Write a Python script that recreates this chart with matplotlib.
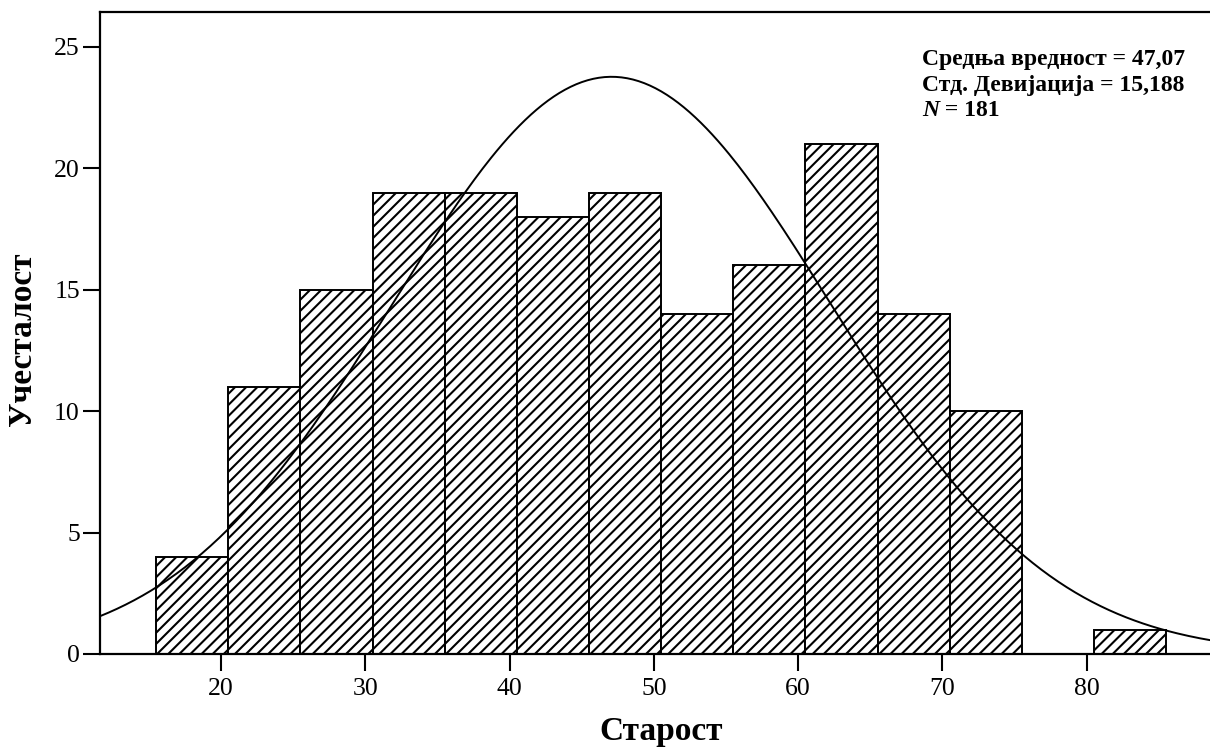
import matplotlib.pyplot as plt
import numpy as np

plt.rcParams["font.family"] = ["Liberation Serif", "DejaVu Serif"]
plt.rcParams["hatch.linewidth"] = 1.5

# histogram of age (bins of width 5)
bin_edges = [15.5, 20.5, 25.5, 30.5, 35.5, 40.5, 45.5, 50.5, 55.5, 60.5, 65.5, 70.5, 75.5, 80.5, 85.5]
counts = [4, 11, 15, 19, 19, 18, 19, 14, 16, 21, 14, 10, 0, 1]
mean_age = 47.07
std_age = 15.188
n_total = 181
x_ticks = [20, 30, 40, 50, 60, 70, 80]
y_ticks = [0, 5, 10, 15, 20, 25]

W, H = 1210, 751
fig = plt.figure(figsize=(W / 100, H / 100), dpi=100)
ax = fig.add_axes([100 / W, 97 / H, 1131 / W, 642 / H])

edges = np.array(bin_edges)
widths = np.diff(edges)
for left, w, c in zip(edges[:-1], widths, counts):
    if c == 0:
        continue
    ax.bar(left, c, width=w, align="edge", facecolor="white",
           edgecolor="black", linewidth=1.4, hatch="///", zorder=2)

xmin, xmax = 11.61, 90.0
xs = np.linspace(xmin, xmax, 400)
bw = widths[0]
pdf = n_total * bw / (std_age * np.sqrt(2 * np.pi)) * np.exp(-0.5 * ((xs - mean_age) / std_age) ** 2)
ax.plot(xs, pdf, color="black", linewidth=1.4, zorder=3)

ax.set_xlim(xmin, xmax)
ax.set_ylim(0, 26.44)
ax.set_xticks(x_ticks)
ax.set_yticks(y_ticks)
ax.tick_params(axis="both", direction="out", length=12.5, width=1.5, labelsize=18.5, pad=5)
ax.tick_params(axis="y", pad=2)
for side in ("left", "bottom", "top"):
    ax.spines[side].set_linewidth(1.6)
ax.spines["right"].set_visible(False)

ax.set_xlabel("Старост", fontsize=24, fontweight="bold")
ax.xaxis.set_label_coords((661 - 100) / 1131, -(716 - 654) / 642)
ax.set_ylabel("Учесталост", fontsize=24, fontweight="bold")
ax.yaxis.set_label_coords(-(100 - 38) / 1131, (654 - 339) / 642)

tx, ty = 922 / W, 1 - 60 / H
fig.text(tx, ty, "Средња вредност = " + f"{mean_age:.2f}".replace(".", ","),
         fontsize=17, fontweight="bold", va="center")
fig.text(tx, ty - 25 / H, "Стд. Девијација = " + f"{std_age:.3f}".replace(".", ","),
         fontsize=17, fontweight="bold", va="center")
t = fig.text(tx, ty - 50 / H, "N", fontsize=17, fontweight="bold", style="italic", va="center")
ax.annotate(f" = {n_total}", xy=(1, 0), xycoords=t, va="bottom",
            fontsize=17, fontweight="bold")

fig.savefig("out.png", dpi=100)
